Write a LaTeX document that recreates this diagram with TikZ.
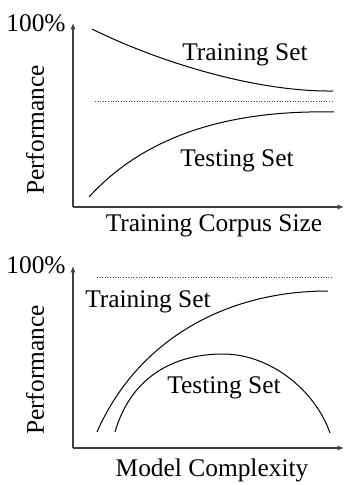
\documentclass[tikz,border=0pt]{standalone}
\usepackage{fontspec}
\setmainfont{Liberation Serif}
\usetikzlibrary{arrows.meta}

\begin{document}
\begin{tikzpicture}[x=0.5pt,y=-0.5pt,font=\fontsize{12.7}{15}\selectfont,
  axis/.style={-{Latex[length=3.2pt,width=2.6pt]},line width=0.6pt,black!75},
  curve/.style={line width=0.5pt},
  limit/.style={dash pattern=on 0.4pt off 0.9pt,line width=0.35pt,black!70},
  lbl/.style={inner sep=0pt}]
\useasboundingbox (0,0) rectangle (344,485);
% upper plot: corpus size
\coordinate (o1) at (73,207);\coordinate (y1) at (73,23);\coordinate (x1) at (344,207);
\draw[axis](o1)--(y1);\draw[axis](o1)--(x1);
\coordinate (l1a) at (95,101);\coordinate (l1b) at (332,101);
\draw[limit](l1a)--(l1b);
\draw[curve](92,29) .. controls (150,58) and (250,92) .. (333,91);
\draw[curve](89,197) .. controls (150,130) and (240,110) .. (334,112);
\node[lbl] (top1) at (36,23) {100\%};
\node[lbl,rotate=90] (perf1) at (35,130) {Performance};
\node[lbl] (train1) at (245,55) {Training Set};
\node[lbl] (test1) at (237,161) {Testing Set};
\node[lbl] (xlab1) at (214,226) {Training Corpus Size};
% lower plot: model complexity
\coordinate (o2) at (73,448);\coordinate (y2) at (73,266);\coordinate (x2) at (344,448);
\draw[axis](o2)--(y2);\draw[axis](o2)--(x2);
\coordinate (l2a) at (97,277);\coordinate (l2b) at (333,277);
\draw[limit](l2a)--(l2b);
\draw[curve](97,432) .. controls (135,345) and (220,291) .. (328,291);
\draw[curve](115,432) .. controls (130,380) and (170,354) .. (223,354)
  .. controls (270,354) and (315,390) .. (330,433);
\node[lbl] (top2) at (36,265) {100\%};
\node[lbl,rotate=90] (perf2) at (35,370) {Performance};
\node[lbl] (train2) at (148,302) {Training Set};
\node[lbl] (test2) at (224,388) {Testing Set};
\node[lbl] (xlab2) at (212,470) {Model Complexity};
\end{tikzpicture}
\end{document}
